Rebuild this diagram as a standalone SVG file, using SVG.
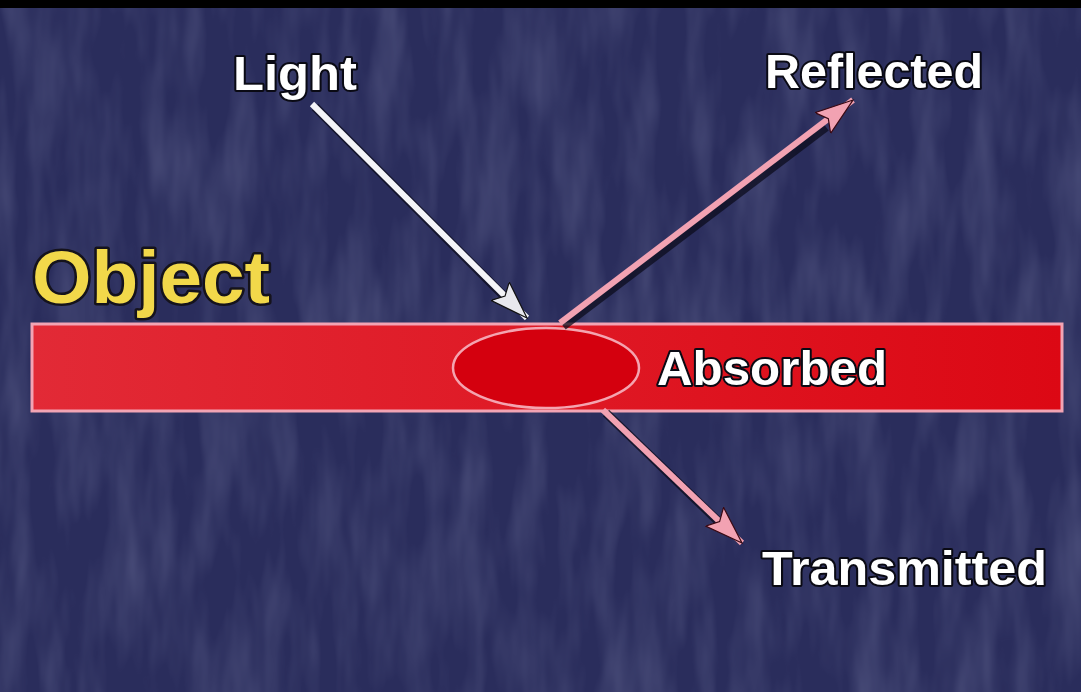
<svg xmlns="http://www.w3.org/2000/svg" width="1081" height="692" viewBox="0 0 1081 692">
  <defs>
    <style>
      .lbl { font-family: "Liberation Sans", Arial, sans-serif; font-weight: bold; font-size: 48px; fill: #ffffff; stroke: #0a0a14; stroke-width: 4; paint-order: stroke; stroke-linejoin: round; }
      .obj { font-family: "Liberation Sans", Arial, sans-serif; font-weight: bold; font-size: 74px; fill: #f2d84a; stroke: #15131c; stroke-width: 5; paint-order: stroke; stroke-linejoin: round; }
      .shaft-w { stroke: #f4f4f8; stroke-width: 6; fill: none; }
      .shaft-p { stroke: #f2a2b2; stroke-width: 6; fill: none; }
      .shadow { stroke: #0c0c1c; stroke-width: 9; fill: none; opacity: 0.75; }
    </style>
    <marker id="headW" markerUnits="userSpaceOnUse" markerWidth="44" markerHeight="32" refX="38" refY="14" orient="auto">
      <path d="M0,1 L38,14 L0,27 L7,14 Z" fill="#e8e8ee" stroke="#111" stroke-width="1.2"/>
    </marker>
    <marker id="headP" markerUnits="userSpaceOnUse" markerWidth="44" markerHeight="32" refX="38" refY="14" orient="auto">
      <path d="M0,1 L38,14 L0,27 L7,14 Z" fill="#f2a2b2" stroke="#3a0a14" stroke-width="1.2"/>
    </marker>
    <linearGradient id="barGrad" x1="0" y1="0" x2="1" y2="0">
      <stop offset="0" stop-color="#e22a36"/>
      <stop offset="1" stop-color="#dc0814"/>
    </linearGradient>
    <filter id="mottle" x="0" y="0" width="100%" height="100%">
      <feTurbulence type="fractalNoise" baseFrequency="0.035 0.008" numOctaves="3" seed="7" result="n"/>
      <feColorMatrix in="n" type="matrix" values="0 0 0 0 0.30  0 0 0 0 0.32  0 0 0 0 0.52  0 0 0 0.9 -0.32"/>
    </filter>
  </defs>

  <rect x="0" y="0" width="1081" height="692" fill="#2a2d5c"/>
  <rect x="0" y="0" width="1081" height="692" filter="url(#mottle)" opacity="0.5"/>
  <rect x="0" y="0" width="1081" height="8" fill="#000000"/>

  <g id="object-bar">
    <rect x="32" y="324" width="1030" height="87" fill="url(#barGrad)" stroke="#f2a4b4" stroke-width="3"/>
  </g>

  <g id="absorbed-zone">
    <ellipse cx="546" cy="368" rx="93" ry="40" fill="#d4000e" stroke="#f4a4b0" stroke-width="2.5"/>
  </g>

  <g id="connectors">
    <line class="shadow" x1="315" y1="107" x2="508" y2="300"/>
    <line class="shaft-w" x1="312" y1="104" x2="527" y2="318" marker-end="url(#headW)"/>
    <line class="shadow" x1="563" y1="326" x2="826" y2="127"/>
    <line class="shaft-p" x1="560" y1="323" x2="853" y2="100" marker-end="url(#headP)"/>
    <line class="shadow" x1="606" y1="413" x2="720" y2="523"/>
    <line class="shaft-p" x1="603" y1="410" x2="742" y2="543" marker-end="url(#headP)"/>
  </g>

  <g id="label-object"><text class="obj" x="32" y="303" textLength="238" lengthAdjust="spacingAndGlyphs">Object</text></g>
  <g id="label-light"><text class="lbl" x="233" y="90" textLength="124" lengthAdjust="spacingAndGlyphs">Light</text></g>
  <g id="label-reflected"><text class="lbl" x="765" y="88" textLength="218" lengthAdjust="spacingAndGlyphs">Reflected</text></g>
  <g id="label-absorbed"><text class="lbl" x="657" y="385" textLength="230" lengthAdjust="spacingAndGlyphs">Absorbed</text></g>
  <g id="label-transmitted"><text class="lbl" x="762" y="585" textLength="285" lengthAdjust="spacingAndGlyphs">Transmitted</text></g>
</svg>
